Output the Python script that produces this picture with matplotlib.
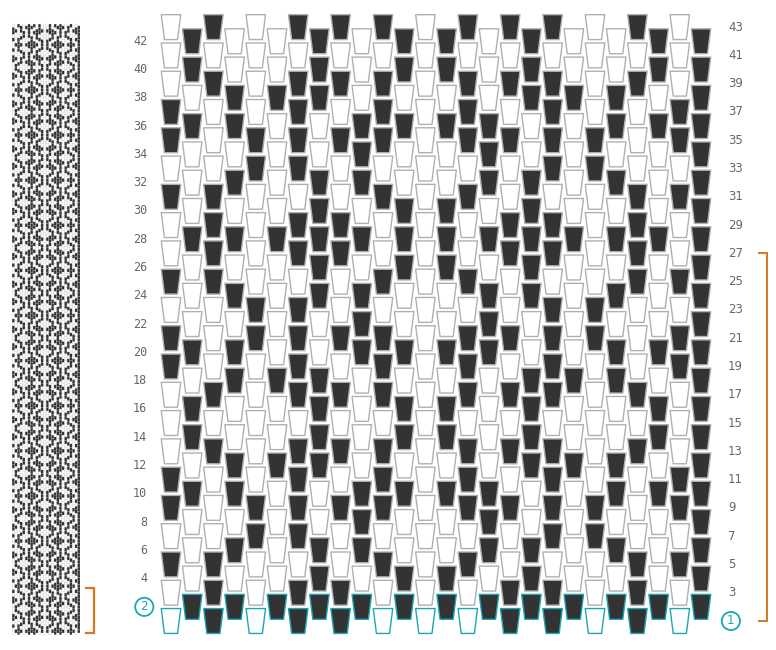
import matplotlib
matplotlib.use("Agg")
import matplotlib.pyplot as plt
from matplotlib.collections import PolyCollection

W, H = 776, 650

# one string per row, 43 at the top, 1 at the bottom. D = dark, W = white.
# odd rows hold columns 0,2,..24 and even rows hold columns 1,3,..25
rows = [
    "WDWDDDWDDDWDW",  # 43
    "DWWDWDDWDWWDD",  # 42
    "WWWWWWWWWWWWW",  # 41
    "DWWDWDDWDWWDD",  # 40
    "WDWDDDWDDDWDW",  # 39
    "WDDDWWWWDDDWD",  # 38
    "DWWDWDWDWDWWD",  # 37
    "DDWWDDDDWWDDD",  # 36
    "DWDDDDWDDDDWD",  # 35
    "WWWWDWWDWWWWD",  # 34
    "WWDDWWWWWDDWW",  # 33
    "WDWDDWWDDWDWD",  # 32
    "DDWWWDWDWWWDD",  # 31
    "WWWDWDDWDWWWD",  # 30
    "WDWDDWWWDDWDW",  # 29
    "DDDDDDDDDDDDD",  # 28
    "WDWDDWWWDDWDW",  # 27
    "WWWDWDDWDWWWD",  # 26
    "DDWWWDWDWWWDD",  # 25
    "WDWDDWWDDWDWD",  # 24
    "WWDDWWWWWDDWW",  # 23
    "WWWWDWWDWWWWD",  # 22
    "DWDDDDWDDDDWD",  # 21
    "DDWWDDDDWWDDD",  # 20
    "DWWDWDWDWDWWD",  # 19
    "WDDDWWWWDDDWD",  # 18
    "WDWDDDWDDDWDW",  # 17
    "DWWDWDDWDWWDD",  # 16
    "WWWWWWWWWWWWW",  # 15
    "DWWDWDDWDWWDD",  # 14
    "WDWDDDWDDDWDW",  # 13
    "WDDDWWWWDDDWD",  # 12
    "DWWDWDWDWDWWD",  # 11
    "DDWWDDDDWWDDD",  # 10
    "DWDDDDWDDDDWD",  # 9
    "WWWWDWWDWWWWD",  # 8
    "WWDDWWWWWDDWW",  # 7
    "WDWDDWWDDWDWD",  # 6
    "DDWWWDWDWWWDD",  # 5
    "WWWDWDDWDWWWD",  # 4
    "WDWDDWWWDDWDW",  # 3
    "DDDDDDDDDDDDD",  # 2
    "WDWDDWWWDDWDW",  # 1
]
row_numbers = list(range(43, 0, -1))
left_labels = list(range(4, 43, 2))
right_labels = list(range(3, 44, 2))
repeat_rows = 26     # length of the pattern, the strip shows 13.5 repeats
strip_rows = 351

DARK = "#333333"
EDGE = "#b0b0b0"
TEAL = "#1aa7b4"
ORANGE = "#d9761e"
TEXT = "#666666"


def px_axes(x0, y0, x1, y1):
    return plt.axes([x0 / W, 1 - y1 / H, (x1 - x0) / W, (y1 - y0) / H])


def trapezoid(col, row):
    # x in columns, y in rows, a cell is two rows tall
    return [(col - 0.46, row + 0.88), (col + 0.46, row + 0.88),
            (col + 0.31, row - 0.88), (col - 0.31, row - 0.88)]


def strip_cell(col, row):
    return [(col - 0.44, row + 0.95), (col + 0.44, row + 0.95),
            (col + 0.44, row - 0.95), (col - 0.44, row - 0.95)]


fig = plt.figure(figsize=(W / 100, H / 100), dpi=100)

# main draft, column 0 sits at x=171 and row 1 at y=621
ax = px_axes(125, 10, 775, 640)
col_w = 21.2
row_h = 14.14
ax.set_xlim((125 - 171) / col_w, (775 - 171) / col_w)
ax.set_ylim(1 + (621 - 640) / row_h, 1 + (621 - 10) / row_h)
ax.axis("off")

for number, row in zip(row_numbers, rows):
    start = 0 if number % 2 else 1
    polys = [trapezoid(start + 2 * i, number) for i in range(len(row))]
    faces = [DARK if c == "D" else "white" for c in row]
    first = number <= 2
    ax.add_collection(PolyCollection(polys, facecolors=faces,
                                     edgecolors=TEAL if first else EDGE,
                                     linewidths=1.0, zorder=3 if first else 2))

for n in left_labels:
    ax.text(-1.12, n, str(n), ha="right", va="center", fontsize=8.5,
            family="DejaVu Sans Mono", color=TEXT, clip_on=False)
for n in right_labels:
    ax.text(26.27, n, str(n), ha="left", va="center", fontsize=8.5,
            color=TEXT, clip_on=False)

# row markers
ax.text(-1.26, 2, "2", ha="center", va="center", fontsize=8.5, color=TEAL, clip_on=False,
        bbox=dict(boxstyle="circle,pad=0.22", fc="white", ec=TEAL, lw=1.3))
ax.text(26.41, 1, "1", ha="center", va="center", fontsize=8.5, color=TEAL, clip_on=False,
        bbox=dict(boxstyle="circle,pad=0.22", fc="white", ec=TEAL, lw=1.3))

# repeat bracket
ax.plot([27.72, 28.1, 28.1, 27.72], [1, 1, 1 + repeat_rows, 1 + repeat_rows],
        color=ORANGE, lw=1.4, solid_joinstyle="miter", clip_on=False)

# small woven strip on the left
strip = px_axes(0, 10, 110, 640)
s_col = 2.62
s_row = 1.735
strip.set_xlim((0 - 13.3) / s_col, (110 - 13.3) / s_col)
strip.set_ylim(1 + (633 - 640) / s_row, 1 + (633 - 10) / s_row)
strip.axis("off")

white_cells, dark_cells = [], []
for number in range(1, strip_rows + 1):
    row = rows[len(rows) - 1 - ((number - 1) % repeat_rows)]
    start = 0 if number % 2 else 1
    for i, c in enumerate(row):
        cell = strip_cell(start + 2 * i, number)
        (dark_cells if c == "D" else white_cells).append(cell)
light = PolyCollection(white_cells, facecolors="white", edgecolors="#d4d4d4",
                       linewidths=0.3, zorder=1)
solid = PolyCollection(dark_cells, facecolors=DARK, edgecolors="none", zorder=2)
light.set_snap(False)
solid.set_snap(False)
strip.add_collection(light)
strip.add_collection(solid)
strip.plot([27.7, 30.9, 30.9, 27.7], [1, 1, 1 + repeat_rows, 1 + repeat_rows],
           color=ORANGE, lw=1.6, solid_joinstyle="miter", clip_on=False)

fig.savefig("out.png", dpi=100)
